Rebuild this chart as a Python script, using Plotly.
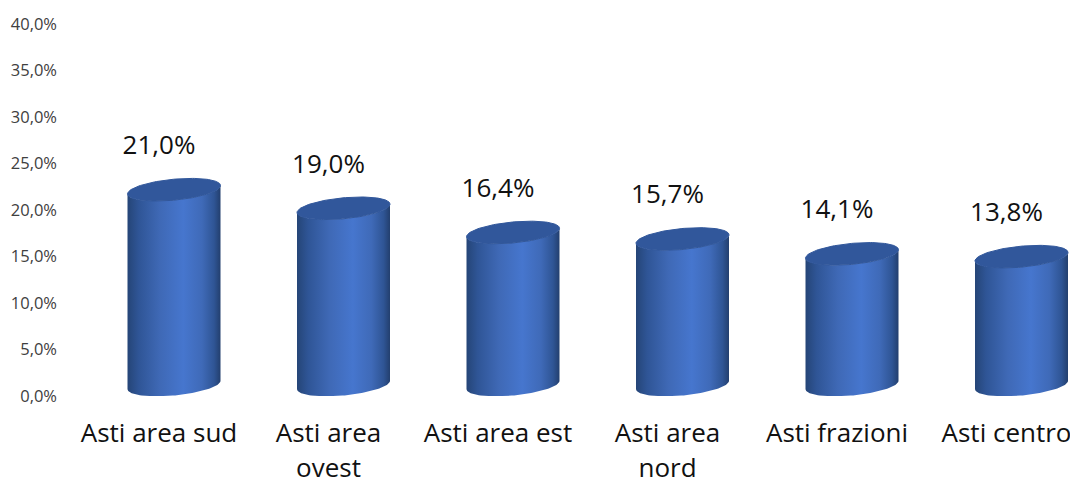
import numpy as np
import plotly.graph_objects as go

categories = ["Asti area sud", "Asti area<br>ovest", "Asti area est", "Asti area<br>nord", "Asti frazioni", "Asti centro"]
values = [21.0, 19.0, 16.4, 15.7, 14.1, 13.8]
y_ticks = [0, 5, 10, 15, 20, 25, 30, 35, 40]
y_tick_labels = ["0,0%", "5,0%", "10,0%", "15,0%", "20,0%", "25,0%", "30,0%", "35,0%", "40,0%"]
value_labels = ["21,0%", "19,0%", "16,4%", "15,7%", "14,1%", "13,8%"]

W, H = 1070, 483
ML, MR, MT, MB = 60, 0, 24, 87
STEP = 169.5            # px per category
X0 = 159                # px of first category
PX_Y = (H - MT - MB) / 40  # px per percentage point

def dx(px): return px / STEP
def dy(px): return px / PX_Y

OFFSET = dx(15)
A = dx(46.5)
B = dy(10.5)
SHEAR = dy(4.2)
BASE = dy(11)
LABEL_GAP = 5.7

side_scale = [[0, "#254577"], [0.12, "#2f5596"], [0.35, "#3f69b6"], [0.6, "#4676ce"],
              [0.8, "#3f6ab8"], [0.93, "#2f5595"], [1, "#233f6e"]]
TOP = "#31579b"

fig = go.Figure()
t_front = np.linspace(np.pi, 2 * np.pi, 60)   # lower arc
t_all = np.linspace(0, 2 * np.pi, 120)

for i, v in enumerate(values):
    cx = i + OFFSET
    top_c = v + BASE
    lx = cx + A * np.cos(t_front)
    ly_bot = BASE + SHEAR * np.cos(t_front) + B * np.sin(t_front)
    ly_top = top_c + SHEAR * np.cos(t_front) + B * np.sin(t_front)
    xs = np.concatenate([lx, lx[::-1]])
    ys = np.concatenate([ly_bot, ly_top[::-1]])
    fig.add_trace(go.Scatter(
        x=xs, y=ys, mode="lines", line=dict(width=0), fill="toself",
        fillgradient=dict(type="horizontal", colorscale=side_scale),
        hoverinfo="skip", showlegend=False))
    ex = cx + A * np.cos(t_all)
    ey = top_c + SHEAR * np.cos(t_all) + B * np.sin(t_all)
    fig.add_trace(go.Scatter(
        x=ex, y=ey, mode="lines", line=dict(width=1, color=TOP), fill="toself",
        fillcolor=TOP, hoverinfo="skip", showlegend=False))

fig.add_trace(go.Scatter(
    x=list(range(len(values))), y=[v + LABEL_GAP for v in values], mode="text",
    text=value_labels,
    textposition="middle center",
    textfont=dict(family="Open Sans", size=26, color="#111111"),
    hoverinfo="skip", showlegend=False, cliponaxis=False))

SPAN = '<span style="font-size:26px">'
fig.update_layout(
    width=W, height=H, autosize=False,
    margin=dict(l=ML, r=MR, t=MT, b=MB),
    paper_bgcolor="white", plot_bgcolor="white",
    showlegend=False,
    xaxis=dict(
        range=[(ML - X0) / STEP, (W - MR - X0) / STEP],
        tickvals=list(range(len(categories))),
        ticktext=[SPAN + c.replace("<br>", "</span><br>" + SPAN) + "</span>" for c in categories],
        tickfont=dict(family="Open Sans", size=27, color="#111111"),
        showgrid=False, zeroline=False, showline=False, ticks="",
        ticklabelstandoff=18, ticklabeloverflow="allow", automargin=False,
    ),
    yaxis=dict(
        range=[0, 40], tickvals=y_ticks, ticktext=y_tick_labels,
        tickfont=dict(family="Open Sans", size=16.5, color="#404040"),
        showgrid=False, zeroline=False, showline=False, ticks="",
        ticklabelstandoff=2, automargin=False,
    ),
)
fig.write_html("out.html", post_script="document.body.style.margin='0';",
               config={"displayModeBar": False})
